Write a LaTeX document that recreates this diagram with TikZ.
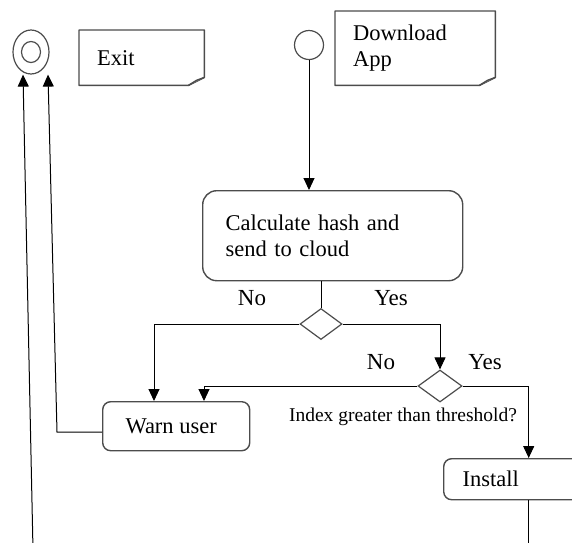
\documentclass[tikz,border=0pt]{standalone}
\usepackage{fontspec}
\setmainfont{Liberation Serif}
\usepackage{tikz}
\usetikzlibrary{shapes.geometric, arrows.meta, positioning, calc}
\tikzstyle{state} = [circle, draw=black!70, line width=1.2pt, minimum size=29pt, inner sep=0pt]
\tikzstyle{final} = [ellipse, draw=black!70, line width=1.2pt, minimum width=36pt, minimum height=44pt, inner sep=0pt]
\tikzstyle{note} = [rectangle, inner xsep=18pt, inner ysep=0pt, align=left, anchor=north west]
\tikzstyle{action} = [rectangle, rounded corners=14pt, draw=black!70, line width=1.4pt, inner xsep=23pt, align=left, anchor=north west]
\tikzstyle{decision} = [diamond, draw=black!70, line width=1.2pt, minimum width=42pt, minimum height=31pt, inner sep=0pt]
\tikzstyle{guard} = [font=\fontsize{23}{26}\selectfont]
\tikzstyle{arrow} = [line width=1pt, -{Triangle[length=12pt,width=11pt]}]
\tikzstyle{line} = [line width=1pt]
\tikzstyle{noteline} = [draw=black!70, line width=1.4pt, line join=round]
\newcommand{\foldnote}[1]{%
  \draw[noteline] (#1.north west) -- (#1.north east) -- ([yshift=8pt]#1.south east) -- ([xshift=-16pt]#1.south east) -- (#1.south west) -- cycle;
  \draw[noteline, fill=black!25] ([yshift=8pt]#1.south east) -- ([xshift=-8pt,yshift=5pt]#1.south east) -- ([xshift=-16pt]#1.south east);}
\begin{document}
\begin{tikzpicture}[x=1pt, y=-1pt, font=\fontsize{22.5}{26}\selectfont]
		\useasboundingbox (0,0) rectangle (572,542);
		\clip (0,0) rectangle (572,542);
		
		\node (final) [final] at (31,52) {};
		\node (finalin) [final, minimum width=19pt, minimum height=21pt] at (final) {};
		\node (exitnote) [note, minimum width=125pt, minimum height=55pt, text width=89pt] at (79,30) {Exit};
		
		\node (start) [state] at (309,45) {};
		\node (appnote) [note, minimum width=160pt, minimum height=74pt, text width=124pt] at (335,11) {Download\\App};
		
		\node (calc) [action, minimum width=260pt, minimum height=90pt, text width=214pt] at (202,190) {Calculate hash and\\send to cloud\\[-6pt]};
		
		\node (dec1) [decision] at (321,324) {};
		\node (dec2) [decision, minimum width=44pt, minimum height=32pt] at (440,386) {};
		
		\node (warn) [action, rounded corners=8pt, inner xsep=8pt, minimum width=147pt, minimum height=49pt] at (102,401) {Warn user\hspace{10pt}};
		\node (install) [action, rounded corners=8pt, inner xsep=19pt, minimum width=170pt, minimum height=41pt, text width=132pt] at (443,458) {Install};
		
		\node (no1) [guard] at (252,298) {No};
		\node (yes1) [guard] at (391,298) {Yes};
		\node (no2) [guard] at (381,362) {No};
		\node (yes2) [guard] at (485,362) {Yes};
		\node (question) [font=\fontsize{19.5}{22}\selectfont] at (403,417) {Index greater than threshold?};
		
		\foldnote{exitnote}
		\foldnote{appnote}
		
		\coordinate (bottom) at (0,550);
		\coordinate (loopin) at (33,550);
		
		\draw [arrow] (start) -- (start |- calc.north);
		\draw [line] (dec1 |- calc.south) -- (dec1.north);
		\draw [arrow] (dec1.west) -| ([xshift=52pt]warn.north west);
		\draw [arrow] (dec1.east) -| (dec2.north);
		\draw [arrow] (dec2.west) -| ([xshift=102pt]warn.north west);
		\draw [arrow] (dec2.east) -| (install.north);
		\draw [line] (install.south) -- (install.south |- bottom);
		\draw [arrow] ([yshift=-6pt]warn.west) -- ++(-45,0) -- ([xshift=17pt]final.south);
		\draw [arrow] (loopin) -- ([xshift=-8pt]final.south);
\end{tikzpicture}
\end{document}
